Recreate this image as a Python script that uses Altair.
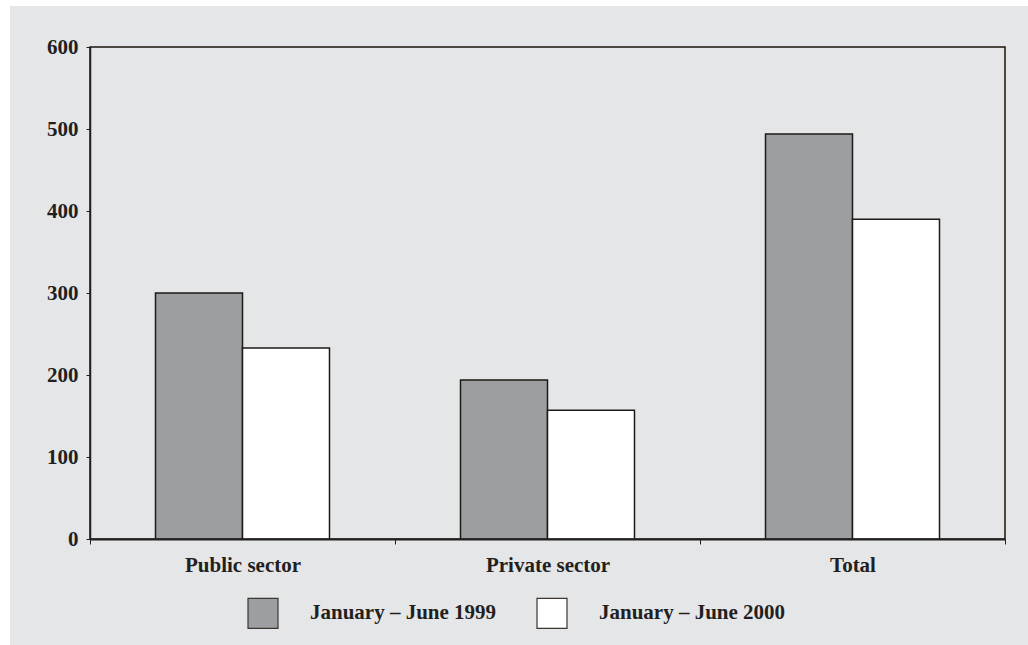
import altair as alt
import pandas as pd

# Sectors and the two half-year periods compared
sectors = ["Public sector", "Private sector", "Total"]
periods = ["January \u2013 June 1999", "January \u2013 June 2000"]
values_1999 = [300, 194, 494]
values_2000 = [233, 157, 390]

rows = []
for s, a, b in zip(sectors, values_1999, values_2000):
    rows.append({"sector": s, "period": periods[0], "value": a})
    rows.append({"sector": s, "period": periods[1], "value": b})
df = pd.DataFrame(rows)

FONT = "Liberation Serif"
INK = "#231f20"
BG = "#e5e6e8"

bars = alt.Chart(df).mark_bar(stroke="#1c1a14", strokeWidth=1.5, opacity=1).encode(
    x=alt.X(
        "sector:N",
        sort=sectors,
        scale=alt.Scale(paddingInner=0, paddingOuter=0),
        axis=alt.Axis(
            title=None, labelAngle=0, labelFont=FONT, labelFontSize=21,
            labelFontWeight="bold", labelColor=INK, labelPadding=10,
            tickBand="extent", tickSize=5, tickColor=INK, domainColor=INK,
            domainWidth=2, zindex=1,
        ),
    ),
    xOffset=alt.XOffset(
        "period:N", sort=periods,
        scale=alt.Scale(paddingInner=0, paddingOuter=0.753),
    ),
    y=alt.Y(
        "value:Q",
        scale=alt.Scale(domain=[0, 600], nice=False),
        axis=alt.Axis(
            title=None, values=[0, 100, 200, 300, 400, 500, 600], grid=False,
            labelFont=FONT, labelFontSize=21, labelFontWeight="bold",
            labelColor=INK, labelPadding=8, tickSize=4, tickColor=INK,
            domainColor=INK, domainWidth=1.5, zindex=1,
        ),
    ),
    color=alt.Color(
        "period:N",
        sort=periods,
        scale=alt.Scale(domain=periods, range=["#9d9ea2", "#ffffff"]),
        legend=alt.Legend(
            title=None, orient="none", legendX=157, legendY=550,
            direction="horizontal", symbolType="square", symbolSize=900,
            symbolStrokeColor="#3a3630", symbolStrokeWidth=1.2,
            symbolOpacity=1, labelFont=FONT, labelFontSize=21,
            labelFontWeight="bold", labelColor=INK, labelOffset=31,
            columnPadding=37, labelLimit=400, padding=0,
        ),
    ),
)

# White margin strips along the left and top edges
strip_left = alt.Chart(pd.DataFrame({"k": [0]})).mark_rect(color="white").encode(
    x=alt.value(-90), x2=alt.value(-80), y=alt.value(-47), y2=alt.value(598)
)
strip_top = alt.Chart(pd.DataFrame({"k": [0]})).mark_rect(color="white").encode(
    x=alt.value(-90), x2=alt.value(938), y=alt.value(-47), y2=alt.value(-41)
)

chart = alt.layer(strip_left, strip_top, bars).properties(
    width=915,
    height=492,
    background=BG,
    padding={"left": 90, "top": 47, "right": 23, "bottom": 106},
    autosize=alt.AutoSizeParams(type="none"),
).configure_view(stroke="#1a1408", strokeWidth=1.5, fill=BG)

chart.save("out.html", embed_options={"renderer": "svg", "actions": False})
